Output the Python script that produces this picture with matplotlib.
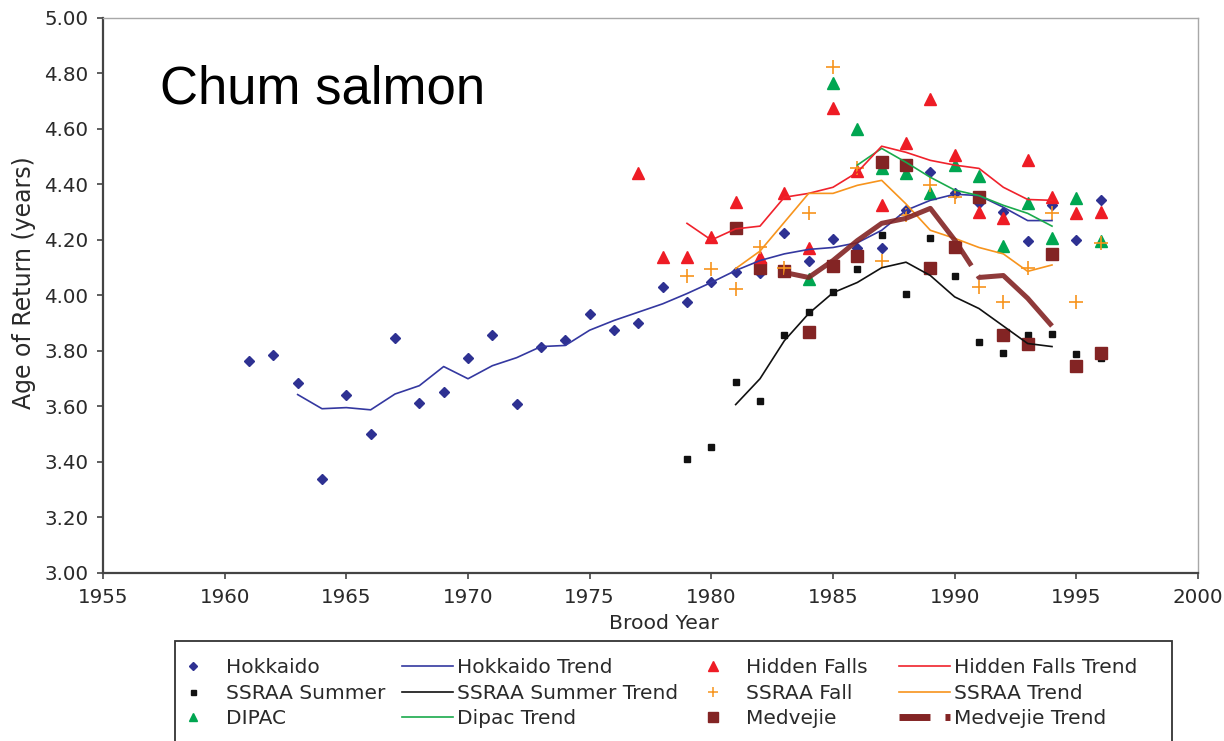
import numpy as np
import matplotlib
matplotlib.use("Agg")
import matplotlib.pyplot as plt
from matplotlib.lines import Line2D
from matplotlib.patches import Rectangle

# Brood years and mean age of return (years)
hokkaido_years = list(range(1961, 1997))
hokkaido = [3.765, 3.787, 3.686, 3.339, 3.640, 3.500, 3.848, 3.614, 3.653, 3.773,
            3.856, 3.610, 3.816, 3.838, 3.935, 3.874, 3.900, 4.030, 3.978, 4.050,
            4.083, 4.080, 4.227, 4.126, 4.205, 4.170, 4.170, 4.307, 4.444, 4.370,
            4.332, 4.300, 4.198, 4.325, 4.200, 4.343]
hokkaido_trend_years = list(range(1963, 1995))
hokkaido_trend = [3.643, 3.592, 3.596, 3.588, 3.645, 3.675, 3.744, 3.700, 3.747, 3.776,
                  3.816, 3.820, 3.875, 3.910, 3.940, 3.970, 4.007, 4.047, 4.090, 4.126,
                  4.150, 4.166, 4.173, 4.190, 4.235, 4.307, 4.343, 4.365, 4.360, 4.318,
                  4.270, 4.270]

hidden_falls_years = list(range(1977, 1997))
hidden_falls = [4.440, 4.140, 4.140, 4.210, 4.336, 4.140, 4.368, 4.170, 4.675, 4.450,
                4.325, 4.550, 4.708, 4.505, 4.300, 4.278, 4.487, 4.354, 4.296, 4.300]
hidden_falls_trend_years = list(range(1979, 1995))
hidden_falls_trend = [4.260, 4.200, 4.240, 4.250, 4.354, 4.368, 4.390, 4.444, 4.538, 4.516,
                      4.487, 4.470, 4.458, 4.390, 4.346, 4.343]

ssraa_summer_years = list(range(1979, 1997))
ssraa_summer = [3.410, 3.455, 3.690, 3.620, 3.856, 3.940, 4.014, 4.094, 4.217, 4.007,
                4.206, 4.072, 3.834, 3.794, 3.859, 3.860, 3.790, 3.773]
ssraa_summer_trend_years = list(range(1981, 1995))
ssraa_summer_trend = [3.607, 3.700, 3.837, 3.935, 4.010, 4.047, 4.100, 4.120, 4.072, 3.995,
                      3.953, 3.890, 3.827, 3.816]

ssraa_fall_years = list(range(1979, 1997))
ssraa_fall = [4.072, 4.097, 4.025, 4.173, 4.100, 4.296, 4.823, 4.460, 4.126, 4.290,
              4.397, 4.354, 4.032, 3.978, 4.100, 4.296, 3.978, 4.190]
ssraa_trend_years = list(range(1981, 1995))
ssraa_trend = [4.097, 4.160, 4.264, 4.368, 4.368, 4.397, 4.415, 4.330, 4.235, 4.206,
               4.173, 4.150, 4.087, 4.110]

dipac_years = list(range(1984, 1997))
dipac = [4.060, 4.765, 4.600, 4.460, 4.440, 4.370, 4.470, 4.430, 4.177, 4.332,
         4.206, 4.350, 4.195]
dipac_trend_years = list(range(1986, 1995))
dipac_trend = [4.470, 4.530, 4.480, 4.426, 4.380, 4.360, 4.325, 4.296, 4.250]

medvejie_years = list(range(1981, 1997))
medvejie = [4.245, 4.100, 4.087, 3.870, 4.108, 4.144, 4.480, 4.470, 4.100, 4.173,
            4.354, 3.856, 3.827, 4.150, 3.747, 3.794]
medvejie_trend_years = list(range(1983, 1995))
medvejie_trend = [4.083, 4.065, 4.126, 4.198, 4.260, 4.278, 4.314, 4.200, 4.065, 4.072,
                  3.990, 3.890]

BLUE = "#2E3192"
RED = "#EE1C25"
GREEN = "#00A651"
ORANGE = "#F7941D"
BROWN = "#832424"
BLACK = "#111111"
TEXT = "#2a2a2a"

W, H = 1224, 741

plt.rcParams["font.family"] = ["DejaVu Sans"]
plt.rcParams["lines.scale_dashes"] = False


def draw_points(ax):
    ax.plot(hokkaido_years, hokkaido, ls="none", marker="D", ms=5.6, color=BLUE, zorder=3)
    ax.plot(ssraa_summer_years, ssraa_summer, ls="none", marker="s", ms=5, color=BLACK, zorder=3)
    ax.plot(dipac_years, dipac, ls="none", marker="^", ms=8, color=GREEN, zorder=3)
    ax.plot(medvejie_years, medvejie, ls="none", marker="s", ms=9.2, color=BROWN, zorder=3)
    ax.plot(hidden_falls_years, hidden_falls, ls="none", marker="^", ms=9, color=RED, zorder=3)
    ax.plot(ssraa_fall_years, ssraa_fall, ls="none", marker="+", ms=9.5, mew=1.2,
            color=ORANGE, zorder=3)


def draw_trends(ax):
    ax.plot(hokkaido_trend_years, hokkaido_trend, color="#3438A0", lw=1.2, zorder=4)
    ax.plot(ssraa_summer_trend_years, ssraa_summer_trend, color=BLACK, lw=1.2, zorder=4)
    ax.plot(dipac_trend_years, dipac_trend, color="#1AAA4C", lw=1.2, zorder=4)
    ax.plot(hidden_falls_trend_years, hidden_falls_trend, color="#F0222C", lw=1.2, zorder=4)
    ax.plot(ssraa_trend_years, ssraa_trend, color="#F7941D", lw=1.2, zorder=4)
    # thick dashed trend: one long dash, a small break, then the rest
    ax.plot(medvejie_trend_years, medvejie_trend, color=BROWN, lw=3.6, alpha=0.9,
            dashes=(171, 8.6, 300, 10), solid_joinstyle="round", zorder=5)


def legend_column(fig, handles, labels, left_px, marker_col):
    # one legend per column so each column sits where the original has it
    if marker_col:
        hl, pad = 2.0, 0.62
    else:
        hl, pad = 2.53, 0.2
    fig.legend(handles, labels, loc="upper left",
               bbox_to_anchor=(left_px / W, 1 - 658 / H),
               fontsize=14.5, handlelength=hl, handletextpad=pad,
               labelspacing=0.33, borderpad=0, borderaxespad=0,
               frameon=False, labelcolor=TEXT)


def draw_legend(fig):
    legend_column(fig,
                  [Line2D([], [], ls="none", marker="D", ms=4.2, color=BLUE),
                   Line2D([], [], ls="none", marker="s", ms=3.6, color=BLACK),
                   Line2D([], [], ls="none", marker="^", ms=5.5, color=GREEN)],
                  ["Hokkaido", "SSRAA Summer", "DIPAC"], 173, True)
    legend_column(fig,
                  [Line2D([], [], color="#3438A0", lw=1.2),
                   Line2D([], [], color=BLACK, lw=1.2),
                   Line2D([], [], color="#1AAA4C", lw=1.2)],
                  ["Hokkaido Trend", "SSRAA Summer Trend", "Dipac Trend"], 402, False)
    legend_column(fig,
                  [Line2D([], [], ls="none", marker="^", ms=7, color=RED),
                   Line2D([], [], ls="none", marker="+", ms=7, mew=1.1, color=ORANGE),
                   Line2D([], [], ls="none", marker="s", ms=6.5, color=BROWN)],
                  ["Hidden Falls", "SSRAA Fall", "Medvejie"], 693, True)
    legend_column(fig,
                  [Line2D([], [], color="#F0222C", lw=1.2),
                   Line2D([], [], color="#F7941D", lw=1.2),
                   Line2D([], [], color=BROWN, lw=5, dashes=(22.3, 10.8, 3.6, 20))],
                  ["Hidden Falls Trend", "SSRAA Trend", "Medvejie Trend"], 899, False)

    # legend box, running off the bottom edge like the original
    box = Rectangle((175 / W, -6 / H), (1172 - 175) / W, (741 - 641 + 6) / H,
                    transform=fig.transFigure, fill=False, edgecolor="#333333",
                    linewidth=1.3)
    fig.add_artist(box)


def main():
    fig = plt.figure(figsize=(W / 100, H / 100), dpi=100)
    ax = fig.add_axes([103 / W, 1 - 573 / H, 1095 / W, 555 / H])

    draw_points(ax)
    draw_trends(ax)

    ax.set_xlim(1955, 2000)
    ax.set_ylim(3.0, 5.0)
    ax.set_xticks(np.arange(1955, 2001, 5))
    ax.set_yticks(np.arange(3.0, 5.01, 0.2))
    ax.yaxis.set_major_formatter(matplotlib.ticker.FormatStrFormatter("%.2f"))
    ax.tick_params(direction="out", length=4, width=1.2, color="#444444",
                   labelsize=14.3, labelcolor=TEXT)
    ax.tick_params(axis="y", pad=6.5)
    ax.tick_params(axis="x", pad=7)

    for side in ["left", "bottom"]:
        ax.spines[side].set_color("#444444")
        ax.spines[side].set_linewidth(1.6)
    for side in ["top", "right"]:
        ax.spines[side].set_color("#A8A8A8")
        ax.spines[side].set_linewidth(1.0)

    ax.set_xlabel("Brood Year", fontsize=14.7, color=TEXT)
    ax.xaxis.set_label_coords(0.512, -0.073)
    ax.set_ylabel("Age of Return (years)", fontsize=17, color=TEXT)
    ax.yaxis.set_label_coords(-0.061, 0.5226)

    fig.text(160 / W, 1 - 103 / H, "Chum salmon", fontsize=38,
             family="Liberation Sans", va="baseline", ha="left", color="black")

    draw_legend(fig)
    fig.savefig("out.png", dpi=100)


if __name__ == "__main__":
    main()
